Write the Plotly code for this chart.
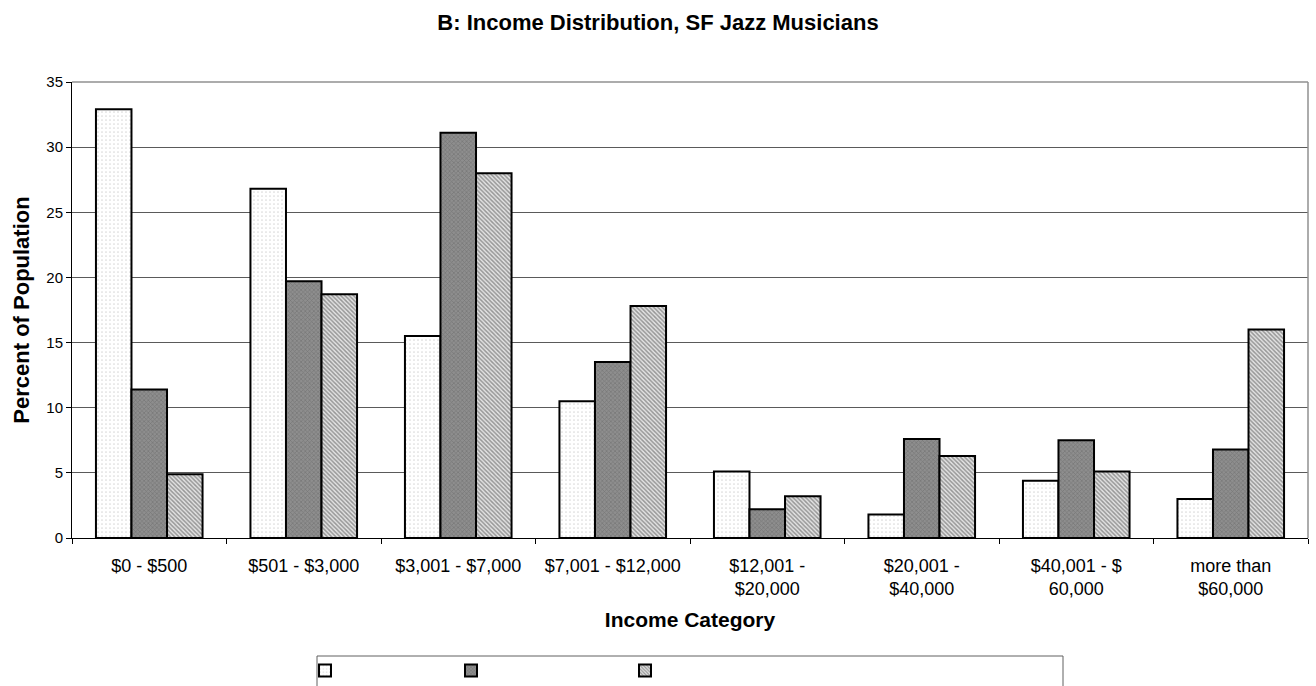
import plotly.graph_objects as go

# Income brackets and the share (%) of each group in every bracket
categories = [
    "$0 - $500",
    "$501 - $3,000",
    "$3,001 - $7,000",
    "$7,001 - $12,000",
    "$12,001 -<br>$20,000",
    "$20,001 -<br>$40,000",
    "$40,001 - $<br>60,000",
    "more than<br>$60,000",
]
series_a = [32.9, 26.8, 15.5, 10.5, 5.1, 1.8, 4.4, 3.0]
series_b = [11.4, 19.7, 31.1, 13.5, 2.2, 7.6, 7.5, 6.8]
series_c = [4.9, 18.7, 28.0, 17.8, 3.2, 6.3, 5.1, 16.0]
y_ticks = [0, 5, 10, 15, 20, 25, 30, 35]

FONT = "Liberation Sans, Arial, sans-serif"
W, H = 1316, 686
L, R, T, B = 72, 8, 82, 148
PW, PH = W - L - R, H - T - B


def px_x(x):
    return (x - L) / PW


def px_y(y):
    return (H - B - y) / PH


styles = [
    dict(values=series_a, color="#ffffff",
         pattern=dict(shape=".", fgcolor="#b4b4b4", bgcolor="#ffffff", size=4, solidity=0.15),
         legend="legend", lx=305),
    dict(values=series_b, color="#7c7c7c",
         pattern=dict(shape="x", fgcolor="#5e5e5e", bgcolor="#8e8e8e", size=3, solidity=0.4),
         legend="legend2", lx=451),
    dict(values=series_c, color="#a0a0a0",
         pattern=dict(shape="\\", fgcolor="#484848", bgcolor="#e4e4e4", size=3, solidity=0.5),
         legend="legend3", lx=625),
]

fig = go.Figure()
for s in styles:
    fig.add_trace(go.Bar(
        x=categories, y=s["values"], name="",
        marker=dict(color=s["color"], pattern=s["pattern"],
                    line=dict(color="#000000", width=2)),
        legend=s["legend"], showlegend=True,
    ))

legend_common = dict(
    orientation="h", yanchor="top", xanchor="left",
    y=px_y(656), borderwidth=0, bgcolor="rgba(0,0,0,0)",
    font=dict(family=FONT, size=12, color="#000000"),
)
layout_legends = {}
for s in styles:
    layout_legends[s["legend"]] = dict(legend_common, x=px_x(s["lx"]))

fig.update_layout(
    width=W, height=H,
    margin=dict(l=L, r=R, t=T, b=B, autoexpand=False),
    paper_bgcolor="#ffffff", plot_bgcolor="#ffffff",
    barmode="group", bargap=0.31, bargroupgap=0,
    title=dict(text="<b>B: Income Distribution, SF Jazz Musicians</b>",
               x=0.5, xanchor="center", yref="container", y=1 - 22 / H,
               yanchor="middle",
               font=dict(family=FONT, size=22, color="#000000")),
    font=dict(family=FONT, size=15, color="#000000"),
    xaxis=dict(
        type="category", tickson="boundaries", ticks="outside", ticklen=5,
        tickcolor="#000000", showline=True, linecolor="#000000", linewidth=1,
        showgrid=False, tickfont=dict(family=FONT, size=18),
        ticklabelstandoff=11,
        title=dict(text="<b>Income Category</b>", standoff=14,
                   font=dict(family=FONT, size=21)),
    ),
    yaxis=dict(
        range=[0, 35], tickvals=y_ticks, ticks="outside", ticklen=5,
        tickcolor="#000000", showline=True, linecolor="#000000", linewidth=1,
        showgrid=True, gridcolor="#5a5a5a", gridwidth=1, zeroline=False,
        tickfont=dict(family=FONT, size=15),
        title=dict(text="<b>Percent of Population</b>", standoff=10,
                   font=dict(family=FONT, size=22)),
    ),
    shapes=[
        # top and right frame of the plotting area
        dict(type="line", xref="paper", yref="paper", x0=0, x1=1, y0=1, y1=1,
             line=dict(color="#909090", width=1.5)),
        dict(type="line", xref="paper", yref="paper", x0=1, x1=1, y0=0, y1=1,
             line=dict(color="#909090", width=1.5)),
        # legend frame
        dict(type="rect", xref="paper", yref="paper",
             x0=px_x(317), x1=px_x(1063), y0=px_y(656), y1=px_y(720),
             line=dict(color="#606060", width=1), fillcolor="rgba(0,0,0,0)"),
    ],
    **layout_legends,
)

fig.write_html("out.html")
